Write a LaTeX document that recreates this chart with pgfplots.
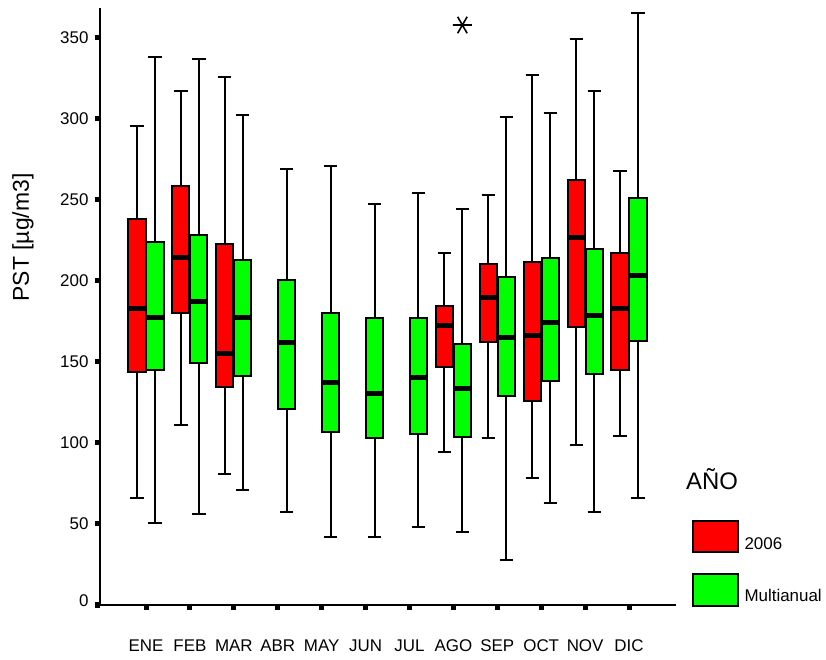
\documentclass[border=0pt]{standalone}
\usepackage{fontspec}
\setmainfont{Liberation Sans}
\usepackage{pgfplots}
\pgfplotsset{compat=1.18}
\usepgfplotslibrary{statistics}
\newcommand{\rb}[6]{\addplot[boxplot prepared={draw position=#1, lower whisker=#2, lower quartile=#3, median=#4, upper quartile=#5, upper whisker=#6}, fill=red, draw=black] coordinates {};}
\newcommand{\gb}[6]{\addplot[boxplot prepared={draw position=#1, lower whisker=#2, lower quartile=#3, median=#4, upper quartile=#5, upper whisker=#6}, fill=green, draw=black] coordinates {};}
\begin{document}
\begin{tikzpicture}
\useasboundingbox (0,0) rectangle (826bp,660bp);
\begin{axis}[
  at={(100bp,55bp)}, anchor=south west,
  scale only axis, width=576bp, height=597bp,
  xmin=-1.048, xmax=12.07, ymin=0, ymax=368,
  axis lines=left, axis line style={-, line width=2bp, black},
  xtick={0,...,11},
  xticklabels={ENE,FEB,MAR,ABR,MAY,JUN,JUL,AGO,SEP,OCT,NOV,DIC},
  ytick={0,50,100,150,200,250,300,350},
  yticklabels={\raisebox{9bp}{0},50,100,150,200,250,300,350},
  tick align=outside, major tick length=5bp,
  tick style={line width=5bp, black},
  every tick label/.append style={font=\fontsize{17}{20}\selectfont},
  /pgf/number format/assume math mode=true,
  xticklabel style={yshift=-26bp},
  yticklabel style={xshift=-3bp},
  ylabel={PST [µg/m3]},
  ylabel style={at={(axis description cs:-0.1337,0.6156)}, anchor=center, font=\fontsize{23}{27}\selectfont},
  clip=false,
  boxplot/draw direction=y,
  boxplot/box extend=0.39,
  boxplot/whisker extend=0.3,
  boxplot/every box/.style={line width=2bp, draw=black},
  boxplot/every whisker/.style={line width=2bp, black},
  boxplot/every median/.style={line width=5bp, black},
]
% 2006
\rb{-0.205}{65.8}{143.6}{182.5}{237.8}{295.3}
\rb{0.795}{111}{179.8}{214}{258.3}{317}
\rb{1.795}{80.8}{134.2}{155.2}{222.4}{325.5}
\rb{6.795}{94.5}{146.5}{172}{184.3}{216.8}
\rb{7.795}{103}{162}{189.5}{210}{252.6}
\rb{8.795}{78.1}{126}{166}{211.3}{326.8}
\rb{9.795}{98.6}{171.6}{226.5}{262}{348.8}
\rb{10.795}{104}{144.9}{182.5}{216.8}{267.6}
% Multianual
\gb{0.205}{50.8}{144.9}{177}{223.8}{337.6}
\gb{1.205}{56.3}{149.4}{186.8}{228}{336.4}
\gb{2.205}{71.1}{141.2}{177.1}{212.7}{302}
\gb{3.205}{57.5}{120.6}{162}{200.4}{269}
\gb{4.205}{42.1}{106.7}{137.3}{179.8}{270.7}
\gb{5.205}{42.1}{102.8}{130.5}{176.7}{247}
\gb{6.205}{47.9}{105.2}{140.1}{176.7}{254.2}
\gb{7.205}{45.2}{103.8}{133.2}{160.7}{244.1}
\gb{8.205}{27.5}{128.9}{164.8}{202}{300.7}
\gb{9.205}{63.1}{138.3}{174.1}{214.1}{303.3}
\gb{10.205}{57.5}{142.6}{178.4}{219.5}{317.1}
\gb{11.205}{65.8}{163}{203}{250.9}{365.2}
% outlier
\addplot[only marks, mark=asterisk, mark size=9.5bp, mark options={line width=1.6bp, black, rotate=90}] coordinates {(7.205,357.5)};
\end{axis}
% legend
\node[anchor=base west, inner sep=0, font=\fontsize{24}{28}\selectfont] at (686bp,170.7bp) {AÑO};
\draw[line width=2bp, fill=red] (693.3bp,108.3bp) rectangle (737.7bp,139.3bp);
\draw[line width=2bp, fill=green] (693.3bp,54.3bp) rectangle (737.7bp,86bp);
\node[anchor=base west, inner sep=0, font=\fontsize{17}{20}\selectfont] at (744.3bp,110bp) {2006};
\node[anchor=base west, inner sep=0, font=\fontsize{17}{20}\selectfont] at (744.3bp,58.3bp) {Multianual};
\end{tikzpicture}
\end{document}
